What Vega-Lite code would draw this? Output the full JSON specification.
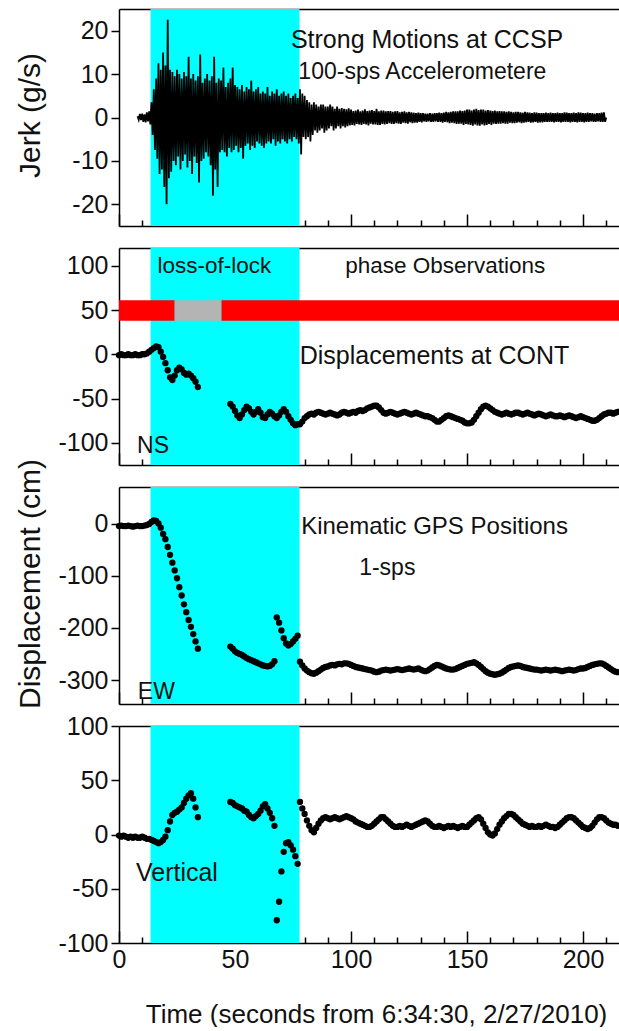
{
"$schema": "https://vega.github.io/schema/vega-lite/v6.json",
"padding": {"left": 14, "top": 9, "right": 0, "bottom": 0},
"background": "white",
"spacing": 22,
"bounds": "flush",
"config": {
  "font": "Liberation Sans",
  "view": {"stroke": null},
  "axis": {"grid": false, "domainColor": "black", "tickColor": "black", "domainWidth": 1.5, "tickWidth": 1.5, "labelColor": "#111", "titleColor": "#111", "titleFontWeight": "normal", "labelOverlap": false},
  "axisY": {"labelFont": "Liberation Sans", "labelFontSize": 25, "labelPadding": 3, "titleFont": "Liberation Sans", "titleFontSize": 30, "titleBaseline": "middle", "titleAlign": "center", "titleAngle": -90},
  "axisX": {"labelFont": "Liberation Sans", "labelFontSize": 25, "labelFlush": false, "titleFont": "Liberation Sans", "titleFontSize": 26}
},
"datasets": {
  "shade": [{"s": 13.6, "e": 77.8}],
  "lock": [{"s": 0, "e": 24, "k": "phase"}, {"s": 24, "e": 44.2, "k": "loss"}, {"s": 44.2, "e": 215.5, "k": "phase"}],
  "gps": [
{"t":0,"n":-1,"e":-5,"u":-1},{"t":1,"n":0,"e":-4,"u":-2},{"t":2,"n":-1,"e":-5,"u":-1},{"t":3,"n":-1,"e":-5,"u":-2},{"t":4,"n":0,"e":-4,"u":-3},
{"t":5,"n":-1,"e":-5,"u":-2},{"t":6,"n":-1,"e":-6,"u":-3},{"t":7,"n":0,"e":-5,"u":-2},{"t":8,"n":-1,"e":-4,"u":-3},{"t":9,"n":-1,"e":-5,"u":-3},
{"t":10,"n":0,"e":-5,"u":-2},{"t":11,"n":0,"e":-4,"u":-3},{"t":12,"n":1,"e":-3,"u":-4},{"t":13,"n":3,"e":-1,"u":-4},{"t":14,"n":5,"e":3,"u":-5},
{"t":15,"n":7,"e":6,"u":-6},{"t":16,"n":9,"e":5,"u":-7},{"t":17,"n":8,"e":0,"u":-8},{"t":18,"n":3,"e":-8,"u":-7},{"t":19,"n":-3,"e":-20,"u":-5},
{"t":20,"n":-10,"e":-30,"u":-2},{"t":21,"n":-18,"e":-45,"u":4},{"t":22,"n":-26,"e":-60,"u":12},{"t":23,"n":-29,"e":-75,"u":18},{"t":24,"n":-24,"e":-90,"u":20},
{"t":25,"n":-18,"e":-105,"u":21},{"t":26,"n":-15,"e":-122,"u":23},{"t":27,"n":-17,"e":-138,"u":25},{"t":28,"n":-21,"e":-155,"u":29},{"t":29,"n":-23,"e":-170,"u":33},
{"t":30,"n":-22,"e":-185,"u":36},{"t":31,"n":-24,"e":-198,"u":38},{"t":32,"n":-27,"e":-212,"u":33},{"t":33,"n":-31,"e":-226,"u":25},{"t":34,"n":-37,"e":-240,"u":16},
{"t":48,"n":-56,"e":-236,"u":30},{"t":49,"n":-59,"e":-240,"u":29},{"t":50,"n":-64,"e":-245,"u":27},{"t":51,"n":-69,"e":-248,"u":26},{"t":52,"n":-72,"e":-250,"u":25},
{"t":53,"n":-68,"e":-252,"u":24},{"t":54,"n":-63,"e":-255,"u":22},{"t":55,"n":-59,"e":-258,"u":21},{"t":56,"n":-61,"e":-260,"u":18},{"t":57,"n":-65,"e":-262,"u":16},
{"t":58,"n":-68,"e":-264,"u":15},{"t":59,"n":-65,"e":-266,"u":17},{"t":60,"n":-62,"e":-268,"u":19},{"t":61,"n":-66,"e":-270,"u":22},{"t":62,"n":-71,"e":-272,"u":26},
{"t":63,"n":-72,"e":-273,"u":28},{"t":64,"n":-68,"e":-274,"u":24},{"t":65,"n":-65,"e":-273,"u":20},{"t":66,"n":-67,"e":-270,"u":15},{"t":67,"n":-70,"e":-264,"u":8},
{"t":68,"n":-72,"e":-180,"u":-79},{"t":69,"n":-69,"e":-190,"u":-62},{"t":70,"n":-65,"e":-205,"u":-34},{"t":71,"n":-62,"e":-220,"u":-16},{"t":72,"n":-65,"e":-230,"u":-8},
{"t":73,"n":-70,"e":-234,"u":-7},{"t":74,"n":-74,"e":-231,"u":-10},{"t":75,"n":-78,"e":-226,"u":-14},{"t":76,"n":-80,"e":-221,"u":-20},{"t":77,"n":-79,"e":-215,"u":-27},
{"t":78,"n":-79,"e":-265,"u":30},{"t":79,"n":-76,"e":-272,"u":24},{"t":80,"n":-72,"e":-278,"u":19},{"t":81,"n":-70,"e":-282,"u":13},{"t":82,"n":-68,"e":-285,"u":8},
{"t":83,"n":-67,"e":-287,"u":4},{"t":84,"n":-68,"e":-288,"u":2},{"t":85,"n":-66,"e":-286,"u":6},{"t":86,"n":-65,"e":-283,"u":10},{"t":87,"n":-66,"e":-280,"u":13},
{"t":88,"n":-67,"e":-277,"u":15},{"t":89,"n":-68,"e":-275,"u":16},{"t":90,"n":-67,"e":-274,"u":15},{"t":91,"n":-66,"e":-272,"u":14},{"t":92,"n":-67,"e":-271,"u":15},
{"t":93,"n":-68,"e":-272,"u":16},{"t":94,"n":-69,"e":-270,"u":15},{"t":95,"n":-68,"e":-269,"u":14},{"t":96,"n":-66,"e":-270,"u":15},{"t":97,"n":-65,"e":-268,"u":16},
{"t":98,"n":-66,"e":-268,"u":17},{"t":99,"n":-67,"e":-269,"u":16},{"t":100,"n":-66,"e":-271,"u":15},{"t":101,"n":-65,"e":-273,"u":14},{"t":102,"n":-66,"e":-275,"u":12},
{"t":103,"n":-64,"e":-276,"u":11},{"t":104,"n":-63,"e":-277,"u":10},{"t":105,"n":-64,"e":-278,"u":9},{"t":106,"n":-63,"e":-279,"u":8},{"t":107,"n":-61,"e":-280,"u":7},
{"t":108,"n":-60,"e":-281,"u":7},{"t":109,"n":-59,"e":-282,"u":8},{"t":110,"n":-58,"e":-284,"u":10},{"t":111,"n":-58,"e":-285,"u":12},{"t":112,"n":-60,"e":-284,"u":14},
{"t":113,"n":-63,"e":-282,"u":16},{"t":114,"n":-66,"e":-281,"u":16},{"t":115,"n":-67,"e":-280,"u":14},{"t":116,"n":-66,"e":-281,"u":12},{"t":117,"n":-65,"e":-282,"u":10},
{"t":118,"n":-66,"e":-281,"u":8},{"t":119,"n":-67,"e":-280,"u":7},{"t":120,"n":-68,"e":-279,"u":7},{"t":121,"n":-67,"e":-280,"u":8},{"t":122,"n":-66,"e":-281,"u":7},
{"t":123,"n":-65,"e":-280,"u":8},{"t":124,"n":-66,"e":-279,"u":9},{"t":125,"n":-67,"e":-278,"u":8},{"t":126,"n":-68,"e":-279,"u":7},{"t":127,"n":-67,"e":-280,"u":8},
{"t":128,"n":-66,"e":-279,"u":9},{"t":129,"n":-67,"e":-278,"u":10},{"t":130,"n":-68,"e":-280,"u":11},{"t":131,"n":-69,"e":-282,"u":12},{"t":132,"n":-70,"e":-283,"u":13},
{"t":133,"n":-70,"e":-282,"u":12},{"t":134,"n":-71,"e":-279,"u":10},{"t":135,"n":-72,"e":-276,"u":8},{"t":136,"n":-74,"e":-273,"u":7},{"t":137,"n":-76,"e":-271,"u":7},
{"t":138,"n":-76,"e":-272,"u":8},{"t":139,"n":-74,"e":-274,"u":7},{"t":140,"n":-72,"e":-276,"u":6},{"t":141,"n":-70,"e":-278,"u":7},{"t":142,"n":-69,"e":-279,"u":8},
{"t":143,"n":-70,"e":-280,"u":7},{"t":144,"n":-71,"e":-280,"u":8},{"t":145,"n":-72,"e":-279,"u":7},{"t":146,"n":-73,"e":-277,"u":6},{"t":147,"n":-74,"e":-275,"u":7},
{"t":148,"n":-75,"e":-273,"u":8},{"t":149,"n":-77,"e":-271,"u":7},{"t":150,"n":-78,"e":-269,"u":7},{"t":151,"n":-78,"e":-268,"u":9},{"t":152,"n":-77,"e":-267,"u":11},
{"t":153,"n":-74,"e":-266,"u":13},{"t":154,"n":-70,"e":-268,"u":15},{"t":155,"n":-66,"e":-271,"u":16},{"t":156,"n":-62,"e":-275,"u":14},{"t":157,"n":-59,"e":-279,"u":10},
{"t":158,"n":-58,"e":-283,"u":6},{"t":159,"n":-59,"e":-286,"u":2},{"t":160,"n":-61,"e":-288,"u":0},{"t":161,"n":-63,"e":-289,"u":-1},{"t":162,"n":-65,"e":-290,"u":1},
{"t":163,"n":-66,"e":-289,"u":5},{"t":164,"n":-67,"e":-288,"u":9},{"t":165,"n":-68,"e":-286,"u":12},{"t":166,"n":-67,"e":-283,"u":15},{"t":167,"n":-66,"e":-280,"u":17},
{"t":168,"n":-67,"e":-277,"u":19},{"t":169,"n":-68,"e":-275,"u":19},{"t":170,"n":-67,"e":-274,"u":18},{"t":171,"n":-66,"e":-273,"u":16},{"t":172,"n":-66,"e":-272,"u":14},
{"t":173,"n":-67,"e":-273,"u":12},{"t":174,"n":-68,"e":-275,"u":10},{"t":175,"n":-67,"e":-276,"u":9},{"t":176,"n":-66,"e":-277,"u":8},{"t":177,"n":-67,"e":-278,"u":7},
{"t":178,"n":-68,"e":-279,"u":8},{"t":179,"n":-69,"e":-280,"u":7},{"t":180,"n":-68,"e":-280,"u":7},{"t":181,"n":-67,"e":-281,"u":8},{"t":182,"n":-68,"e":-282,"u":7},
{"t":183,"n":-69,"e":-281,"u":8},{"t":184,"n":-70,"e":-280,"u":9},{"t":185,"n":-69,"e":-281,"u":8},{"t":186,"n":-68,"e":-282,"u":7},{"t":187,"n":-69,"e":-281,"u":7},
{"t":188,"n":-70,"e":-280,"u":6},{"t":189,"n":-70,"e":-281,"u":7},{"t":190,"n":-69,"e":-282,"u":9},{"t":191,"n":-70,"e":-283,"u":11},{"t":192,"n":-71,"e":-282,"u":13},
{"t":193,"n":-70,"e":-281,"u":15},{"t":194,"n":-69,"e":-280,"u":16},{"t":195,"n":-70,"e":-281,"u":16},{"t":196,"n":-71,"e":-282,"u":15},{"t":197,"n":-72,"e":-281,"u":13},
{"t":198,"n":-71,"e":-279,"u":11},{"t":199,"n":-70,"e":-278,"u":9},{"t":200,"n":-71,"e":-278,"u":7},{"t":201,"n":-72,"e":-277,"u":6},{"t":202,"n":-73,"e":-275,"u":5},
{"t":203,"n":-74,"e":-273,"u":6},{"t":204,"n":-75,"e":-271,"u":8},{"t":205,"n":-75,"e":-270,"u":11},{"t":206,"n":-74,"e":-269,"u":14},{"t":207,"n":-72,"e":-268,"u":16},
{"t":208,"n":-70,"e":-268,"u":16},{"t":209,"n":-68,"e":-270,"u":15},{"t":210,"n":-67,"e":-273,"u":13},{"t":211,"n":-66,"e":-276,"u":11},{"t":212,"n":-66,"e":-279,"u":10},
{"t":213,"n":-67,"e":-282,"u":9},{"t":214,"n":-66,"e":-284,"u":9},{"t":215,"n":-65,"e":-285,"u":8}
  ],
  "jerk": [
{"t":8,"j":0.3},{"t":8.5,"j":-0.5},{"t":9,"j":0.8},{"t":9.5,"j":-0.6},{"t":10,"j":0.9},{"t":10.5,"j":-1.0},{"t":11,"j":0.7},{"t":11.5,"j":-1.1},{"t":12,"j":1.2},{"t":12.5,"j":-0.9},{"t":13,"j":1.4},{"t":13.5,"j":-1.6},
{"t":14,"j":3.5},{"t":14.5,"j":-4.0},{"t":15,"j":6.5},{"t":15.5,"j":-7.5},{"t":16,"j":9},{"t":16.5,"j":-9.5},{"t":17,"j":12.5},{"t":17.5,"j":-13},{"t":18,"j":11},{"t":18.5,"j":-12},{"t":19,"j":15},{"t":19.5,"j":-16},
{"t":20,"j":12},{"t":20.5,"j":-20},{"t":21,"j":22.5},{"t":21.5,"j":-14},{"t":22,"j":11},{"t":22.5,"j":-12.5},{"t":23,"j":10.5},{"t":23.5,"j":-10},{"t":24,"j":9.5},{"t":24.5,"j":-11},{"t":25,"j":11},{"t":25.5,"j":-9},
{"t":26,"j":10},{"t":26.5,"j":-12},{"t":27,"j":9},{"t":27.5,"j":-10},{"t":28,"j":10.5},{"t":28.5,"j":-8.5},{"t":29,"j":9.5},{"t":29.5,"j":-11.5},{"t":30,"j":14},{"t":30.5,"j":-10},{"t":31,"j":9},{"t":31.5,"j":-13},
{"t":32,"j":10},{"t":32.5,"j":-9},{"t":33,"j":8.5},{"t":33.5,"j":-10.5},{"t":34,"j":9.5},{"t":34.5,"j":-15},{"t":35,"j":14.5},{"t":35.5,"j":-10},{"t":36,"j":8},{"t":36.5,"j":-9.5},{"t":37,"j":9},{"t":37.5,"j":-8},
{"t":38,"j":10},{"t":38.5,"j":-9},{"t":39,"j":8.5},{"t":39.5,"j":-11},{"t":40,"j":9.5},{"t":40.5,"j":-18},{"t":41,"j":14},{"t":41.5,"j":-12},{"t":42,"j":8},{"t":42.5,"j":-16},{"t":43,"j":9},{"t":43.5,"j":-8},
{"t":44,"j":8.5},{"t":44.5,"j":-7.5},{"t":45,"j":11.5},{"t":45.5,"j":-8},{"t":46,"j":7},{"t":46.5,"j":-9},{"t":47,"j":8},{"t":47.5,"j":-7},{"t":48,"j":9},{"t":48.5,"j":-8},{"t":49,"j":11.5},{"t":49.5,"j":-7.5},
{"t":50,"j":7.5},{"t":50.5,"j":-6.5},{"t":51,"j":7},{"t":51.5,"j":-8},{"t":52,"j":6.5},{"t":52.5,"j":-7},{"t":53,"j":7.5},{"t":53.5,"j":-9.5},{"t":54,"j":6},{"t":54.5,"j":-6.5},{"t":55,"j":7},{"t":55.5,"j":-6},
{"t":56,"j":6.5},{"t":56.5,"j":-7.5},{"t":57,"j":8.5},{"t":57.5,"j":-6.5},{"t":58,"j":6},{"t":58.5,"j":-7},{"t":59,"j":6.5},{"t":59.5,"j":-5.5},{"t":60,"j":7},{"t":60.5,"j":-6},{"t":61,"j":5.5},{"t":61.5,"j":-6.5},
{"t":62,"j":6},{"t":62.5,"j":-7},{"t":63,"j":5.5},{"t":63.5,"j":-6},{"t":64,"j":7},{"t":64.5,"j":-5.5},{"t":65,"j":5},{"t":65.5,"j":-6},{"t":66,"j":6},{"t":66.5,"j":-5},{"t":67,"j":5.5},{"t":67.5,"j":-6.5},
{"t":68,"j":6.5},{"t":68.5,"j":-5.5},{"t":69,"j":5},{"t":69.5,"j":-6},{"t":70,"j":5.5},{"t":70.5,"j":-5},{"t":71,"j":6},{"t":71.5,"j":-5.5},{"t":72,"j":5},{"t":72.5,"j":-6},{"t":73,"j":5.5},{"t":73.5,"j":-5},
{"t":74,"j":4.5},{"t":74.5,"j":-5.5},{"t":75,"j":5},{"t":75.5,"j":-4.5},{"t":76,"j":5.5},{"t":76.5,"j":-5},{"t":77,"j":4.5},{"t":77.5,"j":-6},{"t":78,"j":6.5},{"t":78.5,"j":-8.5},{"t":79,"j":5.5},{"t":79.5,"j":-4.5},
{"t":80,"j":5},{"t":80.5,"j":-5},{"t":81,"j":4},{"t":81.5,"j":-4.5},{"t":82,"j":3.5},{"t":82.5,"j":-5.5},{"t":83,"j":3},{"t":83.5,"j":-4},{"t":84,"j":3.5},{"t":84.5,"j":-3},{"t":85,"j":3},{"t":85.5,"j":-3.5},
{"t":86,"j":2.5},{"t":86.5,"j":-3},{"t":87,"j":3},{"t":87.5,"j":-2.5},{"t":88,"j":3},{"t":88.5,"j":-3.5},{"t":89,"j":2.5},{"t":89.5,"j":-3},{"t":90,"j":2.5},{"t":90.5,"j":-2.5},{"t":91,"j":3},{"t":91.5,"j":-2},
{"t":92,"j":2.5},{"t":92.5,"j":-3},{"t":93,"j":2},{"t":93.5,"j":-2.5},{"t":94,"j":2.5},{"t":94.5,"j":-2},{"t":95,"j":2},{"t":95.5,"j":-2.5},{"t":96,"j":2.2},{"t":96.5,"j":-2},{"t":97,"j":2},{"t":97.5,"j":-2.3},
{"t":98,"j":1.9},{"t":98.5,"j":-2},{"t":99,"j":2.1},{"t":99.5,"j":-1.8},{"t":100,"j":1.8},{"t":100.5,"j":-1.7},{"t":101,"j":1.5},{"t":101.5,"j":-1.8},{"t":102,"j":1.6},{"t":102.5,"j":-1.5},{"t":103,"j":1.8},{"t":103.5,"j":-1.6},
{"t":104,"j":1.4},{"t":104.5,"j":-1.7},{"t":105,"j":1.6},{"t":105.5,"j":-1.5},{"t":106,"j":1.9},{"t":106.5,"j":-1.6},{"t":107,"j":1.5},{"t":107.5,"j":-1.8},{"t":108,"j":1.6},{"t":108.5,"j":-1.4},{"t":109,"j":1.7},{"t":109.5,"j":-1.6},
{"t":110,"j":1.5},{"t":110.5,"j":-1.6},{"t":111,"j":2.0},{"t":111.5,"j":-1.7},{"t":112,"j":1.4},{"t":112.5,"j":-1.7},{"t":113,"j":1.6},{"t":113.5,"j":-1.5},{"t":114,"j":1.6},{"t":114.5,"j":-1.6},{"t":115,"j":1.4},{"t":115.5,"j":-1.5},
{"t":116,"j":1.5},{"t":116.5,"j":-1.3},{"t":117,"j":1.5},{"t":117.5,"j":-1.5},{"t":118,"j":1.3},{"t":118.5,"j":-1.5},{"t":119,"j":1.4},{"t":119.5,"j":-1.3},{"t":120,"j":1.5},{"t":120.5,"j":-1.4},{"t":121,"j":1.2},{"t":121.5,"j":-1.5},
{"t":122,"j":1.3},{"t":122.5,"j":-1.2},{"t":123,"j":1.4},{"t":123.5,"j":-1.3},{"t":124,"j":1.2},{"t":124.5,"j":-1.4},{"t":125,"j":1.3},{"t":125.5,"j":-1.1},{"t":126,"j":1.2},{"t":126.5,"j":-1.3},{"t":127,"j":1.1},{"t":127.5,"j":-1.2},
{"t":128,"j":1.0},{"t":128.5,"j":-1.2},{"t":129,"j":1.1},{"t":129.5,"j":-1.0},{"t":130,"j":1.0},{"t":130.5,"j":-1.1},{"t":131,"j":1.0},{"t":131.5,"j":-0.9},{"t":132,"j":0.9},{"t":132.5,"j":-1.0},{"t":133,"j":0.9},{"t":133.5,"j":-0.9},
{"t":134,"j":1.0},{"t":134.5,"j":-1.0},{"t":135,"j":0.9},{"t":135.5,"j":-1.0},{"t":136,"j":1.0},{"t":136.5,"j":-0.9},{"t":137,"j":1.0},{"t":137.5,"j":-1.0},{"t":138,"j":1.1},{"t":138.5,"j":-1.0},{"t":139,"j":1.0},{"t":139.5,"j":-1.2},
{"t":140,"j":1.1},{"t":140.5,"j":-1.0},{"t":141,"j":1.3},{"t":141.5,"j":-1.1},{"t":142,"j":1.2},{"t":142.5,"j":-1.3},{"t":143,"j":1.3},{"t":143.5,"j":-1.2},{"t":144,"j":1.4},{"t":144.5,"j":-1.3},{"t":145,"j":1.4},{"t":145.5,"j":-1.5},
{"t":146,"j":1.4},{"t":146.5,"j":-1.4},{"t":147,"j":1.6},{"t":147.5,"j":-1.4},{"t":148,"j":1.5},{"t":148.5,"j":-1.7},{"t":149,"j":1.6},{"t":149.5,"j":-1.5},{"t":150,"j":1.8},{"t":150.5,"j":-1.6},{"t":151,"j":1.8},{"t":151.5,"j":-1.7},
{"t":152,"j":1.6},{"t":152.5,"j":-1.9},{"t":153,"j":1.8},{"t":153.5,"j":-1.6},{"t":154,"j":2.0},{"t":154.5,"j":-1.8},{"t":155,"j":1.7},{"t":155.5,"j":-1.9},{"t":156,"j":1.8},{"t":156.5,"j":-1.6},{"t":157,"j":1.8},{"t":157.5,"j":-1.8},
{"t":158,"j":1.6},{"t":158.5,"j":-1.7},{"t":159,"j":1.7},{"t":159.5,"j":-1.5},{"t":160,"j":1.6},{"t":160.5,"j":-1.7},{"t":161,"j":1.5},{"t":161.5,"j":-1.4},{"t":162,"j":1.6},{"t":162.5,"j":-1.5},{"t":163,"j":1.4},{"t":163.5,"j":-1.4},
{"t":164,"j":1.5},{"t":164.5,"j":-1.4},{"t":165,"j":1.4},{"t":165.5,"j":-1.3},{"t":166,"j":1.4},{"t":166.5,"j":-1.4},{"t":167,"j":1.3},{"t":167.5,"j":-1.4},{"t":168,"j":1.4},{"t":168.5,"j":-1.2},{"t":169,"j":1.3},{"t":169.5,"j":-1.3},
{"t":170,"j":1.2},{"t":170.5,"j":-1.3},{"t":171,"j":1.3},{"t":171.5,"j":-1.2},{"t":172,"j":1.3},{"t":172.5,"j":-1.1},{"t":173,"j":1.2},{"t":173.5,"j":-1.3},{"t":174,"j":1.1},{"t":174.5,"j":-1.2},{"t":175,"j":1.3},{"t":175.5,"j":-1.1},
{"t":176,"j":1.2},{"t":176.5,"j":-1.0},{"t":177,"j":1.1},{"t":177.5,"j":-1.2},{"t":178,"j":1.0},{"t":178.5,"j":-1.1},{"t":179,"j":1.2},{"t":179.5,"j":-1.0},{"t":180,"j":1.1},{"t":180.5,"j":-1.2},{"t":181,"j":1.0},{"t":181.5,"j":-1.1},
{"t":182,"j":1.0},{"t":182.5,"j":-1.1},{"t":183,"j":1.0},{"t":183.5,"j":-1.0},{"t":184,"j":1.1},{"t":184.5,"j":-1.0},{"t":185,"j":1.0},{"t":185.5,"j":-1.0},{"t":186,"j":1.1},{"t":186.5,"j":-1.0},{"t":187,"j":1.0},{"t":187.5,"j":-1.1},
{"t":188,"j":1.0},{"t":188.5,"j":-1.0},{"t":189,"j":1.1},{"t":189.5,"j":-1.0},{"t":190,"j":1.0},{"t":190.5,"j":-1.1},{"t":191,"j":1.0},{"t":191.5,"j":-1.0},{"t":192,"j":1.2},{"t":192.5,"j":-1.0},{"t":193,"j":1.1},{"t":193.5,"j":-1.0},
{"t":194,"j":1.0},{"t":194.5,"j":-1.1},{"t":195,"j":1.0},{"t":195.5,"j":-1.0},{"t":196,"j":1.1},{"t":196.5,"j":-1.0},{"t":197,"j":1.0},{"t":197.5,"j":-1.1},{"t":198,"j":1.2},{"t":198.5,"j":-1.0},{"t":199,"j":1.1},{"t":199.5,"j":-1.0},
{"t":200,"j":1.0},{"t":200.5,"j":-1.1},{"t":201,"j":1.0},{"t":201.5,"j":-1.0},{"t":202,"j":1.1},{"t":202.5,"j":-1.0},{"t":203,"j":1.0},{"t":203.5,"j":-0.9},{"t":204,"j":1.0},{"t":204.5,"j":-1.0},{"t":205,"j":0.9},{"t":205.5,"j":-1.0},
{"t":206,"j":1.0},{"t":206.5,"j":-0.9},{"t":207,"j":1.0},{"t":207.5,"j":-1.0},{"t":208,"j":1.1},{"t":208.5,"j":-1.0},{"t":209,"j":1.2},{"t":209.5,"j":-1.0},{"t":210,"j":0}
  ]
},
"vconcat": [
{
  "width": 500, "height": 217,
  "resolve": {"axis": {"x": "independent"}},
  "layer": [
    {"data": {"name": "shade"}, "mark": {"type": "rect", "color": "#00ffff"},
     "encoding": {
       "x": {"field": "s", "type": "quantitative", "scale": {"domain": [0, 215.5], "nice": false, "zero": false},
             "axis": {"orient": "bottom", "values": [0,10,20,30,40,50,60,70,80,90,100,110,120,130,140,150,160,170,180,190,200,210], "labels": false, "title": null, "tickSize": {"condition": {"test": "datum.value % 50 === 0", "value": -12}, "value": -6}}},
       "x2": {"field": "e"},
       "y": {"value": 0}, "y2": {"value": "height"}}},
    {"data": {"name": "jerk"}, "mark": {"type": "line", "color": "black", "strokeWidth": 1.8},
     "encoding": {
       "x": {"field": "t", "type": "quantitative", "scale": {"domain": [0, 215.5], "nice": false, "zero": false}, "axis": {"orient": "top", "ticks": false, "labels": false, "title": null}},
       "y": {"field": "j", "type": "quantitative", "scale": {"domain": [-25, 25], "nice": false, "zero": false},
             "axis": {"values": [-20,-15,-10,-5,0,5,10,15,20], "labelExpr": "datum.value % 10 === 0 ? '' + datum.value : ''", "tickSize": {"condition": {"test": "datum.value % 10 === 0", "value": 8}, "value": 5}, "title": "Jerk (g/s)", "titleX": -89, "titleY": 106}}}},
    {"data": {"values": [{"t": 74.1, "v": 16.1, "txt": "Strong Motions at CCSP"}]},
     "mark": {"type": "text", "align": "left", "baseline": "alphabetic", "fontSize": 25, "color": "#111", "font": "Liberation Sans"},
     "encoding": {"x": {"field": "t", "type": "quantitative", "scale": {"domain": [0, 215.5], "nice": false, "zero": false}, "axis": null},
                  "y": {"field": "v", "type": "quantitative", "scale": {"domain": [-25, 25], "nice": false, "zero": false}},
                  "text": {"field": "txt"}}},
    {"data": {"values": [{"t": 77.3, "v": 8.8, "txt": "100-sps Accelerometere"}]},
     "mark": {"type": "text", "align": "left", "baseline": "alphabetic", "fontSize": 23, "color": "#111", "font": "Liberation Sans"},
     "encoding": {"x": {"field": "t", "type": "quantitative", "scale": {"domain": [0, 215.5], "nice": false, "zero": false}, "axis": null},
                  "y": {"field": "v", "type": "quantitative", "scale": {"domain": [-25, 25], "nice": false, "zero": false}},
                  "text": {"field": "txt"}}}
  ]
},
{
  "width": 500, "height": 217,
  "resolve": {"axis": {"x": "independent"}},
  "layer": [
    {"data": {"name": "shade"}, "mark": {"type": "rect", "color": "#00ffff"},
     "encoding": {
       "x": {"field": "s", "type": "quantitative", "scale": {"domain": [0, 215.5], "nice": false, "zero": false},
             "axis": {"orient": "bottom", "values": [0,10,20,30,40,50,60,70,80,90,100,110,120,130,140,150,160,170,180,190,200,210], "labels": false, "title": null, "tickSize": {"condition": {"test": "datum.value % 50 === 0", "value": -12}, "value": -6}}},
       "x2": {"field": "e"},
       "y": {"value": 0}, "y2": {"value": "height"}}},
    {"data": {"name": "lock"}, "mark": {"type": "rect"},
     "encoding": {
       "x": {"field": "s", "type": "quantitative", "scale": {"domain": [0, 215.5], "nice": false, "zero": false}, "axis": null},
       "x2": {"field": "e"},
       "y": {"datum": 38, "type": "quantitative", "scale": {"domain": [-125, 120], "nice": false, "zero": false}},
       "y2": {"datum": 61},
       "color": {"field": "k", "type": "nominal", "scale": {"domain": ["phase", "loss"], "range": ["#ff0000", "#b4b4b4"]}, "legend": null}}},
    {"data": {"name": "gps"}, "mark": {"type": "point", "filled": true, "size": 40, "color": "black", "opacity": 1},
     "encoding": {
       "x": {"field": "t", "type": "quantitative", "scale": {"domain": [0, 215.5], "nice": false, "zero": false}, "axis": {"orient": "top", "ticks": false, "labels": false, "title": null}},
       "y": {"field": "n", "type": "quantitative", "scale": {"domain": [-125, 120], "nice": false, "zero": false},
             "axis": {"values": [-100,-75,-50,-25,0,25,50,75,100], "labelExpr": "datum.value % 50 === 0 ? '' + datum.value : ''", "tickSize": {"condition": {"test": "datum.value % 50 === 0", "value": 8}, "value": 5}, "title": null}}}},
    {"data": {"values": [{"t": 16.6, "v": 91.4, "txt": "loss-of-lock"}, {"t": 97.5, "v": 91.4, "txt": "phase Observations"}]},
     "mark": {"type": "text", "align": "left", "baseline": "alphabetic", "fontSize": 22.5, "color": "#111", "font": "Liberation Sans"},
     "encoding": {"x": {"field": "t", "type": "quantitative", "scale": {"domain": [0, 215.5], "nice": false, "zero": false}, "axis": null},
                  "y": {"field": "v", "type": "quantitative", "scale": {"domain": [-125, 120], "nice": false, "zero": false}},
                  "text": {"field": "txt"}}},
    {"data": {"values": [{"t": 77.9, "v": -11, "txt": "Displacements at CONT"}]},
     "mark": {"type": "text", "align": "left", "baseline": "alphabetic", "fontSize": 25, "color": "#111", "font": "Liberation Sans"},
     "encoding": {"x": {"field": "t", "type": "quantitative", "scale": {"domain": [0, 215.5], "nice": false, "zero": false}, "axis": null},
                  "y": {"field": "v", "type": "quantitative", "scale": {"domain": [-125, 120], "nice": false, "zero": false}},
                  "text": {"field": "txt"}}},
    {"data": {"values": [{"t": 7.8, "v": -111.7, "txt": "NS"}]},
     "mark": {"type": "text", "align": "left", "baseline": "alphabetic", "fontSize": 23, "color": "#111", "font": "Liberation Sans"},
     "encoding": {"x": {"field": "t", "type": "quantitative", "scale": {"domain": [0, 215.5], "nice": false, "zero": false}, "axis": null},
                  "y": {"field": "v", "type": "quantitative", "scale": {"domain": [-125, 120], "nice": false, "zero": false}},
                  "text": {"field": "txt"}}}
  ]
},
{
  "width": 500, "height": 217,
  "resolve": {"axis": {"x": "independent"}},
  "layer": [
    {"data": {"name": "shade"}, "mark": {"type": "rect", "color": "#00ffff"},
     "encoding": {
       "x": {"field": "s", "type": "quantitative", "scale": {"domain": [0, 215.5], "nice": false, "zero": false},
             "axis": {"orient": "bottom", "values": [0,10,20,30,40,50,60,70,80,90,100,110,120,130,140,150,160,170,180,190,200,210], "labels": false, "title": null, "tickSize": {"condition": {"test": "datum.value % 50 === 0", "value": -12}, "value": -6}}},
       "x2": {"field": "e"},
       "y": {"value": 0}, "y2": {"value": "height"}}},
    {"data": {"name": "gps"}, "mark": {"type": "point", "filled": true, "size": 40, "color": "black", "opacity": 1},
     "encoding": {
       "x": {"field": "t", "type": "quantitative", "scale": {"domain": [0, 215.5], "nice": false, "zero": false}, "axis": {"orient": "top", "ticks": false, "labels": false, "title": null}},
       "y": {"field": "e", "type": "quantitative", "scale": {"domain": [-346, 70], "nice": false, "zero": false},
             "axis": {"values": [-300,-250,-200,-150,-100,-50,0,50], "labelExpr": "datum.value % 100 === 0 ? '' + datum.value : ''", "tickSize": {"condition": {"test": "datum.value % 100 === 0", "value": 8}, "value": 5}, "title": "Displacement (cm)", "titleX": -89, "titleY": 96.5}}}},
    {"data": {"values": [{"t": 78.5, "v": -19.2, "txt": "Kinematic GPS Positions"}]},
     "mark": {"type": "text", "align": "left", "baseline": "alphabetic", "fontSize": 24, "color": "#111", "font": "Liberation Sans"},
     "encoding": {"x": {"field": "t", "type": "quantitative", "scale": {"domain": [0, 215.5], "nice": false, "zero": false}, "axis": null},
                  "y": {"field": "v", "type": "quantitative", "scale": {"domain": [-346, 70], "nice": false, "zero": false}},
                  "text": {"field": "txt"}}},
    {"data": {"values": [{"t": 103.5, "v": -99, "txt": "1-sps"}, {"t": 8.1, "v": -335.5, "txt": "EW"}]},
     "mark": {"type": "text", "align": "left", "baseline": "alphabetic", "fontSize": 23, "color": "#111", "font": "Liberation Sans"},
     "encoding": {"x": {"field": "t", "type": "quantitative", "scale": {"domain": [0, 215.5], "nice": false, "zero": false}, "axis": null},
                  "y": {"field": "v", "type": "quantitative", "scale": {"domain": [-346, 70], "nice": false, "zero": false}},
                  "text": {"field": "txt"}}}
  ]
},
{
  "width": 500, "height": 217,
  "resolve": {"axis": {"x": "independent"}},
  "layer": [
    {"data": {"name": "shade"}, "mark": {"type": "rect", "color": "#00ffff"},
     "encoding": {
       "x": {"field": "s", "type": "quantitative", "scale": {"domain": [0, 215.5], "nice": false, "zero": false},
             "axis": {"orient": "bottom", "values": [0,10,20,30,40,50,60,70,80,90,100,110,120,130,140,150,160,170,180,190,200,210], "labelExpr": "datum.value % 50 === 0 ? '' + datum.value : ''", "labelPadding": 16, "tickSize": {"condition": {"test": "datum.value % 50 === 0", "value": -12}, "value": -6},
                      "title": "Time (seconds from 6:34:30, 2/27/2010)", "titleX": 257, "titleY": 79, "titleAlign": "center", "titleBaseline": "alphabetic"}},
       "x2": {"field": "e"},
       "y": {"value": 0}, "y2": {"value": "height"}}},
    {"data": {"name": "gps"}, "mark": {"type": "point", "filled": true, "size": 40, "color": "black", "opacity": 1},
     "encoding": {
       "x": {"field": "t", "type": "quantitative", "scale": {"domain": [0, 215.5], "nice": false, "zero": false}, "axis": {"orient": "top", "ticks": false, "labels": false, "title": null}},
       "y": {"field": "u", "type": "quantitative", "scale": {"domain": [-100, 100], "nice": false, "zero": false},
             "axis": {"values": [-100,-75,-50,-25,0,25,50,75,100], "labelExpr": "datum.value % 50 === 0 ? '' + datum.value : ''", "tickSize": {"condition": {"test": "datum.value % 50 === 0", "value": 8}, "value": 5}, "title": null}}}},
    {"data": {"values": [{"t": 7.3, "v": -42.6, "txt": "Vertical"}]},
     "mark": {"type": "text", "align": "left", "baseline": "alphabetic", "fontSize": 25, "color": "#111", "font": "Liberation Sans"},
     "encoding": {"x": {"field": "t", "type": "quantitative", "scale": {"domain": [0, 215.5], "nice": false, "zero": false}, "axis": null},
                  "y": {"field": "v", "type": "quantitative", "scale": {"domain": [-100, 100], "nice": false, "zero": false}},
                  "text": {"field": "txt"}}}
  ]
}
]
}
